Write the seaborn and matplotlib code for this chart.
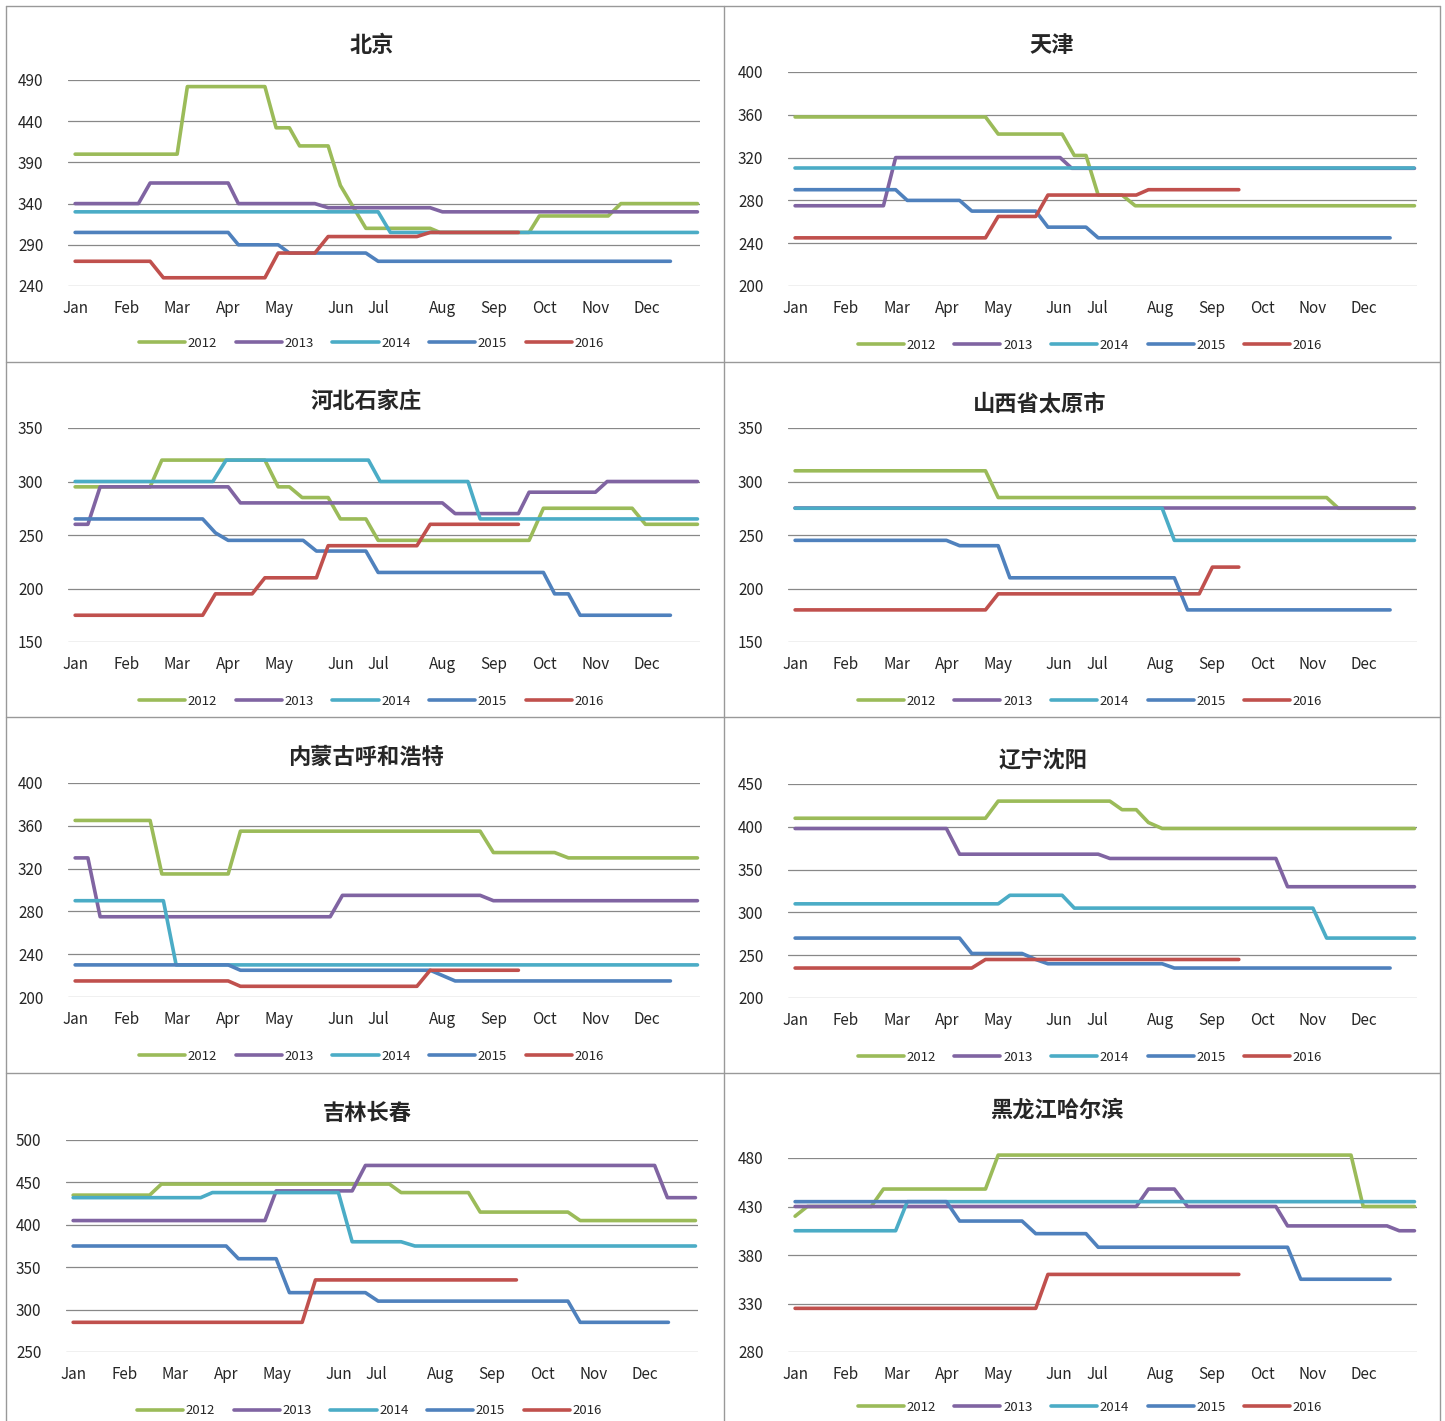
import numpy as np
import pandas as pd
import seaborn as sns
import matplotlib.pyplot as plt
from matplotlib.lines import Line2D

sns.set_style("white")
plt.rcParams['font.family'] = ['Noto Sans CJK SC', 'DejaVu Sans']

months = ["Jan", "Feb", "Mar", "Apr", "May", "Jun", "Jul", "Aug", "Sep", "Oct", "Nov", "Dec"]
month_pos = [0, 1, 2, 3, 4, 5.2, 5.95, 7.2, 8.2, 9.2, 10.2, 11.2]
years = ["2012", "2013", "2014", "2015", "2016"]
colors = ["#9BBB59", "#8064A2", "#4BACC6", "#4F81BD", "#C0504D"]

# x knots (month units), y values
beijing = {
    "2012": ([0, 2, 2.2, 3.72, 3.94, 4.2, 4.4, 4.96, 5.2, 5.7, 6.96, 7.15, 8.9, 9.1, 10.45, 10.7, 12.2],
             [400, 400, 482, 482, 432, 432, 410, 410, 362, 310, 310, 305, 305, 325, 325, 340, 340]),
    "2013": ([0, 1.24, 1.47, 3.0, 3.2, 4.7, 4.96, 6.96, 7.2, 12.2],
             [340, 340, 365, 365, 340, 340, 335, 335, 330, 330]),
    "2014": ([0, 5.94, 6.18, 12.2], [330, 330, 305, 305]),
    "2015": ([0, 3.0, 3.2, 3.98, 4.2, 5.7, 5.94, 11.67],
             [305, 305, 290, 290, 280, 280, 270, 270]),
    "2016": ([0, 1.47, 1.73, 3.72, 3.98, 4.7, 4.96, 6.7, 6.96, 8.69],
             [270, 270, 250, 250, 280, 280, 300, 300, 305, 305]),
}
tianjin = {
    "2012": ([0, 3.75, 4.0, 5.26, 5.5, 5.73, 5.97, 6.44, 6.7, 12.2],
             [358, 358, 342, 342, 322, 322, 285, 285, 275, 275]),
    "2013": ([0, 1.74, 1.98, 5.22, 5.45, 12.2], [275, 275, 320, 320, 310, 310]),
    "2014": ([0, 12.2], [310, 310]),
    "2015": ([0, 1.98, 2.21, 3.24, 3.48, 4.74, 4.98, 5.73, 5.97, 11.72],
             [290, 290, 280, 280, 270, 270, 255, 255, 245, 245]),
    "2016": ([0, 3.75, 4.0, 4.74, 4.98, 6.72, 6.96, 8.74],
             [245, 245, 265, 265, 285, 285, 290, 290]),
}
hebei = {
    "2012": ([0, 1.47, 1.7, 3.72, 3.98, 4.2, 4.45, 4.96, 5.2, 5.7, 5.94, 8.9, 9.18, 10.92, 11.18, 12.2],
             [295, 295, 320, 320, 295, 295, 285, 285, 265, 265, 245, 245, 275, 275, 260, 260]),
    "2013": ([0, 0.25, 0.49, 3.0, 3.24, 7.2, 7.45, 8.69, 8.9, 10.2, 10.43, 12.2],
             [260, 260, 295, 295, 280, 280, 270, 270, 290, 290, 300, 300]),
    "2014": ([0, 2.7, 2.96, 5.75, 5.98, 7.7, 7.94, 12.2],
             [300, 300, 320, 320, 300, 300, 265, 265]),
    "2015": ([0, 2.5, 2.75, 3.0, 4.47, 4.73, 5.7, 5.94, 9.18, 9.4, 9.67, 9.9, 11.67],
             [265, 265, 252, 245, 245, 235, 235, 215, 215, 195, 195, 175, 175]),
    "2016": ([0, 2.5, 2.75, 3.47, 3.72, 4.73, 4.96, 6.7, 6.96, 8.69],
             [175, 175, 195, 195, 210, 210, 240, 240, 260, 260]),
}
shanxi = {
    "2012": ([0, 3.75, 4.0, 10.47, 10.7, 12.2], [310, 310, 285, 285, 275, 275]),
    "2013": ([0, 12.2], [275, 275]),
    "2014": ([0, 7.23, 7.47, 12.2], [275, 275, 245, 245]),
    "2015": ([0, 2.98, 3.24, 4.0, 4.23, 7.47, 7.73, 11.72],
             [245, 245, 240, 240, 210, 210, 180, 180]),
    "2016": ([0, 3.75, 4.0, 7.96, 8.22, 8.74], [180, 180, 195, 195, 220, 220]),
}
neimeng = {
    "2012": ([0, 1.47, 1.7, 3.0, 3.24, 7.94, 8.2, 9.4, 9.67, 12.2],
             [365, 365, 315, 315, 355, 355, 335, 335, 330, 330]),
    "2013": ([0, 0.25, 0.49, 5.0, 5.24, 7.94, 8.2, 12.2],
             [330, 330, 275, 275, 295, 295, 290, 290]),
    "2014": ([0, 1.73, 1.98, 12.2], [290, 290, 230, 230]),
    "2015": ([0, 3.0, 3.24, 6.96, 7.45, 11.67], [230, 230, 225, 225, 215, 215]),
    "2016": ([0, 3.0, 3.24, 6.7, 6.96, 8.69], [215, 215, 210, 210, 225, 225]),
}
liaoning = {
    "2012": ([0, 3.75, 4.0, 6.2, 6.44, 6.72, 6.96, 7.23, 12.2],
             [410, 410, 430, 430, 420, 420, 405, 398, 398]),
    "2013": ([0, 2.98, 3.24, 5.97, 6.2, 9.47, 9.7, 12.2],
             [398, 398, 368, 368, 363, 363, 330, 330]),
    "2014": ([0, 4.0, 4.23, 5.26, 5.5, 10.2, 10.47, 12.2],
             [310, 310, 320, 320, 305, 305, 270, 270]),
    "2015": ([0, 3.24, 3.48, 4.47, 4.74, 4.98, 7.23, 7.47, 11.72],
             [270, 270, 252, 252, 245, 240, 240, 235, 235]),
    "2016": ([0, 3.48, 3.75, 8.74], [235, 235, 245, 245]),
}
jilin = {
    "2012": ([0, 1.5, 1.73, 6.2, 6.43, 7.75, 7.98, 9.7, 9.94, 12.2],
             [435, 435, 448, 448, 438, 438, 415, 415, 405, 405]),
    "2013": ([0, 3.76, 3.98, 5.47, 5.73, 11.4, 11.65, 12.2],
             [405, 405, 440, 440, 470, 470, 432, 432]),
    "2014": ([0, 2.5, 2.73, 5.2, 5.47, 6.43, 6.7, 12.2],
             [432, 432, 438, 438, 380, 380, 375, 375]),
    "2015": ([0, 3.0, 3.24, 3.98, 4.24, 5.73, 5.98, 9.7, 9.94, 11.67],
             [375, 375, 360, 360, 320, 320, 310, 310, 285, 285]),
    "2016": ([0, 4.49, 4.75, 8.69], [285, 285, 335, 335]),
}
heilong = {
    "2012": ([0, 0.24, 1.5, 1.74, 3.75, 4.0, 10.95, 11.19, 12.2],
             [420, 430, 430, 448, 448, 483, 483, 430, 430]),
    "2013": ([0, 6.72, 6.96, 7.47, 7.73, 9.47, 9.7, 11.66, 11.9, 12.2],
             [430, 430, 448, 448, 430, 430, 410, 410, 405, 405]),
    "2014": ([0, 1.98, 2.21, 12.2], [405, 405, 435, 435]),
    "2015": ([0, 2.98, 3.24, 4.47, 4.74, 5.73, 5.97, 9.7, 9.96, 11.72],
             [435, 435, 415, 415, 402, 402, 388, 388, 355, 355]),
    "2016": ([0, 4.74, 4.98, 8.74], [325, 325, 360, 360]),
}

panels = [
    ("北京", beijing, [240, 290, 340, 390, 440, 490]),
    ("天津", tianjin, [200, 240, 280, 320, 360, 400]),
    ("河北石家庄", hebei, [150, 200, 250, 300, 350]),
    ("山西省太原市", shanxi, [150, 200, 250, 300, 350]),
    ("内蒙古呼和浩特", neimeng, [200, 240, 280, 320, 360, 400]),
    ("辽宁沈阳", liaoning, [200, 250, 300, 350, 400, 450]),
    ("吉林长春", jilin, [250, 300, 350, 400, 450, 500]),
    ("黑龙江哈尔滨", heilong, [280, 330, 380, 430, 480]),
]

W, H = 1445, 1421
fig = plt.figure(figsize=(W / 100, H / 100), dpi=100)

# axes placement in pixels: (left, right, top, bottom)
boxes = [
    (68, 700, 80, 286), (788, 1417, 72, 286),
    (68, 700, 428, 642), (788, 1417, 428, 642),
    (68, 700, 783, 997), (788, 1417, 784, 998),
    (66, 698, 1140, 1352), (788, 1417, 1158, 1352),
]
title_y = [45, 45, 401, 404, 757, 760, 1113, 1110]
title_x = [372, 1052, 366, 1040, 366, 1043, 367, 1057]

for i, (name, data, yt) in enumerate(panels):
    l, r, t, b = boxes[i]
    ax = fig.add_axes([l / W, 1 - b / H, (r - l) / W, (b - t) / H])
    for yr, c in zip(years, colors):
        xs, ys = data[yr]
        df = pd.DataFrame({"x": xs, "y": ys})
        sns.lineplot(data=df, x="x", y="y", ax=ax, color=c, lw=2.6,
                     label=yr, estimator=None, sort=False, clip_on=False)
    ax.set_xlim(-0.14, 12.25)
    ax.set_ylim(yt[0], yt[-1])
    ax.set_yticks(yt)
    ax.set_xticks(month_pos)
    ax.set_xticklabels(months)
    ax.set_xlabel("")
    ax.set_ylabel("")
    ax.tick_params(axis="both", length=0, labelsize=11)
    ax.tick_params(axis="x", pad=10)
    for lab in ax.get_yticklabels():
        lab.set_horizontalalignment("left")
    ax.yaxis.set_tick_params(pad=36)
    ax.grid(axis="y", color="#888888", lw=0.9)
    ax.set_axisbelow(True)
    for s in ax.spines.values():
        s.set_visible(False)
    ax.legend(loc="upper center", bbox_to_anchor=(0.48, -0.19), ncol=5, frameon=False,
              fontsize=9.5, handlelength=3.5, handletextpad=0.2, columnspacing=1.4)
    fig.text(title_x[i] / W, 1 - title_y[i] / H, name, ha="center", va="center",
             fontsize=16, fontweight="bold")

# panel borders
border = "#999999"
for xp in [6, 724, 1440]:
    fig.add_artist(Line2D([xp / W, xp / W], [1 - 6 / H, 0], color=border, lw=1))
for yp in [6, 362, 717, 1073]:
    fig.add_artist(Line2D([6 / W, 1440 / W], [1 - yp / H, 1 - yp / H], color=border, lw=1))

fig.savefig("out.png", dpi=100)
